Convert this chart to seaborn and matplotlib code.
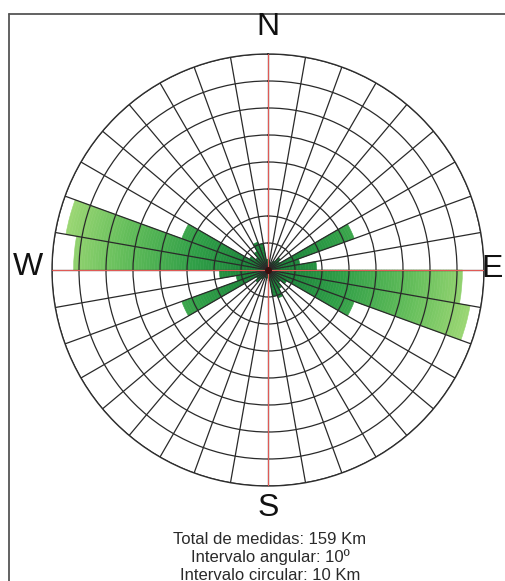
import numpy as np
import matplotlib
matplotlib.use("Agg")
import matplotlib.pyplot as plt
from matplotlib.lines import Line2D
import seaborn as sns

# rose diagram data: 10 degree bins (start azimuth), length in Km
bin_start = list(range(0, 360, 10))
lengths = [3, 2, 3, 4, 6, 5, 34, 12, 18, 72, 76, 34,
           8, 6, 8, 11, 10, 4,
           3, 2, 3, 4, 6, 5, 34, 12, 18, 72, 76, 34,
           8, 6, 8, 11, 10, 4]
ring_step = 10
ring_max = 80
bin_width = 10

summary = ["Total de medidas: 159 Km",
           "Intervalo angular: 10º",
           "Intervalo circular: 10 Km"]

sns.set_style("white")
plt.rcParams["font.family"] = ["Liberation Sans", "DejaVu Sans"]

fig = plt.figure(figsize=(5.06, 5.81), dpi=100)
W, H = 506, 581
cx, cy, rad = 268, 270, 216
ax = fig.add_axes([(cx - rad) / W, (H - cy - rad) / H, 2 * rad / W, 2 * rad / H],
                  projection="polar")
ax.set_theta_zero_location("N")
ax.set_theta_direction(-1)

# radial gradient, dark green in the middle to light green outside
pal = sns.blend_palette(["#157a36", "#2f9e47", "#62bd5a", "#a3da77"], ring_max)
step = 1
for b, L in zip(bin_start, lengths):
    th = np.deg2rad(b)
    r = 0
    while r < L:
        h = min(step, L - r)
        col = pal[min(int(r), ring_max - 1)]
        ax.bar(th, h, width=np.deg2rad(bin_width), bottom=r, align="edge",
               color=col, edgecolor=col, linewidth=0.4, zorder=1)
        r += h

ax.set_ylim(0, ring_max)
ax.set_thetagrids(range(0, 360, 10), labels=[])
ax.set_rgrids(range(ring_step, ring_max + 1, ring_step), labels=[])
ax.set_axisbelow(False)
ax.grid(True, color="#2a2a2a", linewidth=0.9)
ax.spines["polar"].set_color("#333333")
ax.spines["polar"].set_linewidth(1.0)

# red N-S / E-W cross
for a in (0, 90):
    t = np.deg2rad([a, a + 180])
    ax.plot([t[0], t[0]], [0, ring_max], color="#e05a55", lw=0.8, zorder=4)
    ax.plot([t[1], t[1]], [0, ring_max], color="#e05a55", lw=0.8, zorder=4)
ax.plot([0], [0], "o", color="#3a1010", ms=4, zorder=5)

# cardinal letters
fs = 23
fig.text(cx / W, 1 - 27 / H, "N", ha="center", va="center", fontsize=fs, color="#111111")
fig.text(cx / W, 1 - 508 / H, "S", ha="center", va="center", fontsize=fs, color="#111111")
fig.text(28 / W, 1 - 267 / H, "W", ha="center", va="center", fontsize=fs, color="#111111")
fig.text(503 / W, 1 - 269 / H, "E", ha="right", va="center", fontsize=fs, color="#111111")

for i, s in enumerate(summary):
    fig.text(270 / W, 1 - (540 + 17.5 * i) / H, s, ha="center", va="center",
             fontsize=12, color="#2a2a2a")

# frame
fig.add_artist(Line2D([9 / W, 9 / W], [0, 1 - 14 / H], transform=fig.transFigure,
                      color="#555555", lw=1.3))
fig.add_artist(Line2D([9 / W, 1], [1 - 14 / H, 1 - 14 / H], transform=fig.transFigure,
                      color="#555555", lw=1.3))

fig.savefig("out.png", dpi=100)
